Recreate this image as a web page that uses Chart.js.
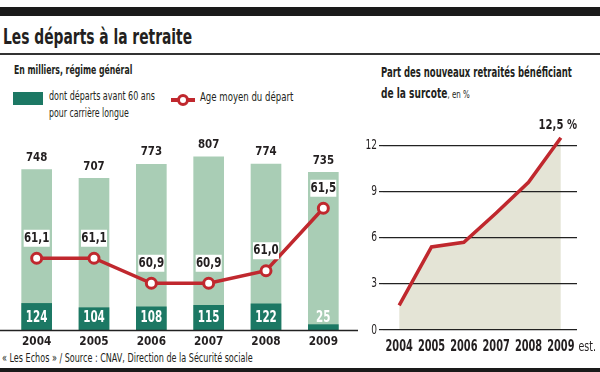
<!DOCTYPE html>
<html><head><meta charset="utf-8">
<script src="https://cdn.jsdelivr.net/npm/chart.js@4.4.1/dist/chart.umd.min.js"></script>
<style>
html,body{margin:0;padding:0;background:#fff;}
#wrap{position:relative;width:600px;height:372px;overflow:hidden;background:#fff;font-family:"Liberation Sans Narrow","DejaVu Sans Condensed",sans-serif;color:#231f20;}
.t{position:absolute;white-space:nowrap;line-height:1;transform-origin:0 50%;}
.rule{position:absolute;left:0;width:600px;background:#1a1a1a;}
canvas{position:absolute;}
</style></head><body>
<div id="wrap">
<div class="rule" style="top:7px;height:9px"></div>
<div class="t" data-w="189" style="left:3px;top:37px;font-size:21px;font-weight:bold">Les départs à la retraite</div>
<div class="rule" style="top:53px;height:1.5px;background:#333"></div>
<div class="t" data-w="118" style="left:14px;top:70px;font-size:12.5px;font-weight:bold">En milliers, régime général</div>
<div style="position:absolute;left:13px;top:92px;width:30px;height:13px;background:#1c7864"></div>
<div class="t" data-w="106" style="left:49px;top:96px;font-size:12.5px">dont départs avant 60 ans</div>
<div class="t" data-w="80" style="left:49px;top:113px;font-size:12.5px">pour carrière longue</div>
<div style="position:absolute;left:171px;top:98px;width:24px;height:4px;background:#c0282e"></div>
<div style="position:absolute;left:177px;top:94px;width:6px;height:6px;border:3px solid #c0282e;border-radius:50%;background:#fff"></div>
<div class="t" data-w="93" style="left:200px;top:97px;font-size:12.5px">Age moyen du départ</div>
<div class="t" data-w="191" style="left:381px;top:72px;font-size:14px;font-weight:bold">Part des nouveaux retraités bénéficiant</div>
<div class="t" data-w="89" style="left:381px;top:93px;font-size:14px;font-weight:bold">de la surcote<span style="font-weight:normal;font-size:11px">, en %</span></div>
<div class="t" data-w="251" style="left:2px;top:359px;font-size:11.5px">« Les Echos » / Source : CNAV, Direction de la Sécurité sociale</div>
<div class="rule" style="top:368px;height:4px"></div>
<canvas id="left" width="360" height="230" style="left:0;top:130px"></canvas>
<canvas id="right" width="260" height="262" style="left:340px;top:110px"></canvas>
</div>
<script>
// ---- data ----
const years = ['2004','2005','2006','2007','2008','2009'];
const totalDepartures = [748, 707, 773, 807, 774, 735];
const earlyDepartures = [124, 104, 108, 115, 122, 25];
const averageAge = [61.1, 61.1, 60.9, 60.9, 61.0, 61.5];
const surcoteYears = ['2004','2005','2006','2007','2008','2009'];
const surcoteShare = [1.6, 5.4, 5.7, 7.6, 9.6, 12.5];
const surcoteTicks = [0, 3, 6, 9, 12];
const estimateSuffix = 'est.';

// ---- styles ----
const F = '"Liberation Sans Narrow","DejaVu Sans Condensed",sans-serif';
const RED = '#c0282e', DARK = '#1c7864', LIGHT = '#a9cdb5', AREA = '#e4e4d6', TXT = '#231f20';

document.querySelectorAll('[data-w]').forEach(el => {
  const w = el.offsetWidth;
  const s = (+el.dataset.w) / w;
  el.style.transform = 'translateY(-50%) scaleX(' + s + ')';
});

function txt(ctx, s, x, y, font, color, align, sx) {
  ctx.save();
  ctx.font = font; ctx.fillStyle = color; ctx.textBaseline = 'middle'; ctx.textAlign = align;
  ctx.translate(x, y); ctx.scale(sx, 1);
  ctx.fillText(s, 0, 0);
  ctx.restore();
}
function fmt(v) { return v.toFixed(1).replace('.', ','); }

const leftLabels = {
  id: 'leftLabels',
  afterDatasetsDraw(chart) {
    const ctx = chart.ctx, area = chart.chartArea;
    const ageMeta = chart.getDatasetMeta(0), earlyMeta = chart.getDatasetMeta(1), totMeta = chart.getDatasetMeta(2);
    ctx.save(); ctx.strokeStyle = '#222'; ctx.lineWidth = 1.3;
    ctx.beginPath(); ctx.moveTo(0, area.bottom + 0.5); ctx.lineTo(358, area.bottom + 0.5); ctx.stroke(); ctx.restore();
    years.forEach((yr, i) => {
      const tb = totMeta.data[i], eb = earlyMeta.data[i], pt = ageMeta.data[i];
      txt(ctx, String(totalDepartures[i]), tb.x, tb.y - 12, 'bold 12px ' + F, TXT, 'center', 0.95);
      txt(ctx, String(earlyDepartures[i]), eb.x, eb.base - 12, 'bold 16px ' + F, '#fff', 'center', 0.72);
      const by = pt.y - 20;
      ctx.fillStyle = '#fff'; ctx.fillRect(pt.x - 13, by - 8.5, 26, 17);
      txt(ctx, fmt(averageAge[i]), pt.x, by, 'bold 14px ' + F, TXT, 'center', 0.82);
      txt(ctx, yr, chart.scales.x.getPixelForTick(i), area.bottom + 12, 'bold 13px ' + F, TXT, 'center', 0.9);
    });
  }
};

new Chart(document.getElementById('left').getContext('2d'), {
  type: 'bar',
  data: {
    labels: years,
    datasets: [
      { type: 'line', data: averageAge, yAxisID: 'yAge', order: 0, borderColor: RED, borderWidth: 3.5,
        pointRadius: 5, pointBorderWidth: 3, pointBackgroundColor: '#fff', pointBorderColor: RED, tension: 0 },
      { data: earlyDepartures, yAxisID: 'y', order: 1, backgroundColor: DARK, barThickness: 30, grouped: false },
      { data: totalDepartures, yAxisID: 'y', order: 2, backgroundColor: LIGHT, barThickness: 30, grouped: false }
    ]
  },
  options: {
    responsive: false, animation: false, events: [],
    layout: { padding: { left: 4, right: 4, top: 10, bottom: 10 } },
    plugins: { legend: { display: false }, tooltip: { enabled: false } },
    scales: {
      x: { offset: true, grid: { display: false, drawTicks: false }, border: { display: false }, ticks: { display: false },
           afterFit(s) { s.height = 20; } },
      y: { display: false, min: 0, max: 886 },
      yAge: { display: false, position: 'right', min: 60.526, max: 62.046 }
    }
  },
  plugins: [leftLabels]
});

const rightLabels = {
  id: 'rightLabels',
  afterDatasetsDraw(chart) {
    const ctx = chart.ctx, area = chart.chartArea, ys = chart.scales.y, xs = chart.scales.x;
    surcoteTicks.forEach(v => txt(ctx, String(v), area.left - 6, ys.getPixelForValue(v), '14px ' + F, TXT, 'right', 0.72));
    surcoteYears.forEach((yr, i) => txt(ctx, yr, xs.getPixelForTick(i), area.bottom + 17, 'bold 16px ' + F, TXT, 'center', 0.68));
    const last = surcoteYears.length - 1;
    ctx.save(); ctx.font = 'bold 16px ' + F;
    const w = ctx.measureText(surcoteYears[last]).width * 0.68; ctx.restore();
    txt(ctx, estimateSuffix, xs.getPixelForTick(last) + w / 2 + 4, area.bottom + 17, '14px ' + F, TXT, 'left', 0.75);
    const p = chart.getDatasetMeta(0).data[last];
    txt(ctx, fmt(surcoteShare[last]) + ' %', p.x - 3, p.y - 12, 'bold 14px ' + F, TXT, 'center', 0.8);
  }
};

new Chart(document.getElementById('right').getContext('2d'), {
  type: 'line',
  data: {
    labels: surcoteYears,
    datasets: [{ data: surcoteShare, borderColor: RED, borderWidth: 3.5, fill: 'origin', backgroundColor: AREA,
                 pointRadius: 0, tension: 0 }]
  },
  options: {
    responsive: false, animation: false, events: [],
    layout: { padding: { left: 0, right: 23, top: 20, bottom: 12 } },
    plugins: { legend: { display: false }, tooltip: { enabled: false }, filler: { drawTime: 'beforeDraw' } },
    scales: {
      x: { offset: true, grid: { display: false, drawTicks: false }, border: { display: false }, ticks: { display: false },
           afterFit(s) { s.height = 30; } },
      y: { min: 0, max: 13, grid: { color: '#222', lineWidth: 1.2, drawTicks: true, tickLength: 4 },
           border: { display: false }, ticks: { display: false },
           afterBuildTicks(s) { s.ticks = surcoteTicks.map(v => ({ value: v })); },
           afterFit(s) { s.width = 43; } }
    }
  },
  plugins: [rightLabels]
});
</script>
</body></html>
